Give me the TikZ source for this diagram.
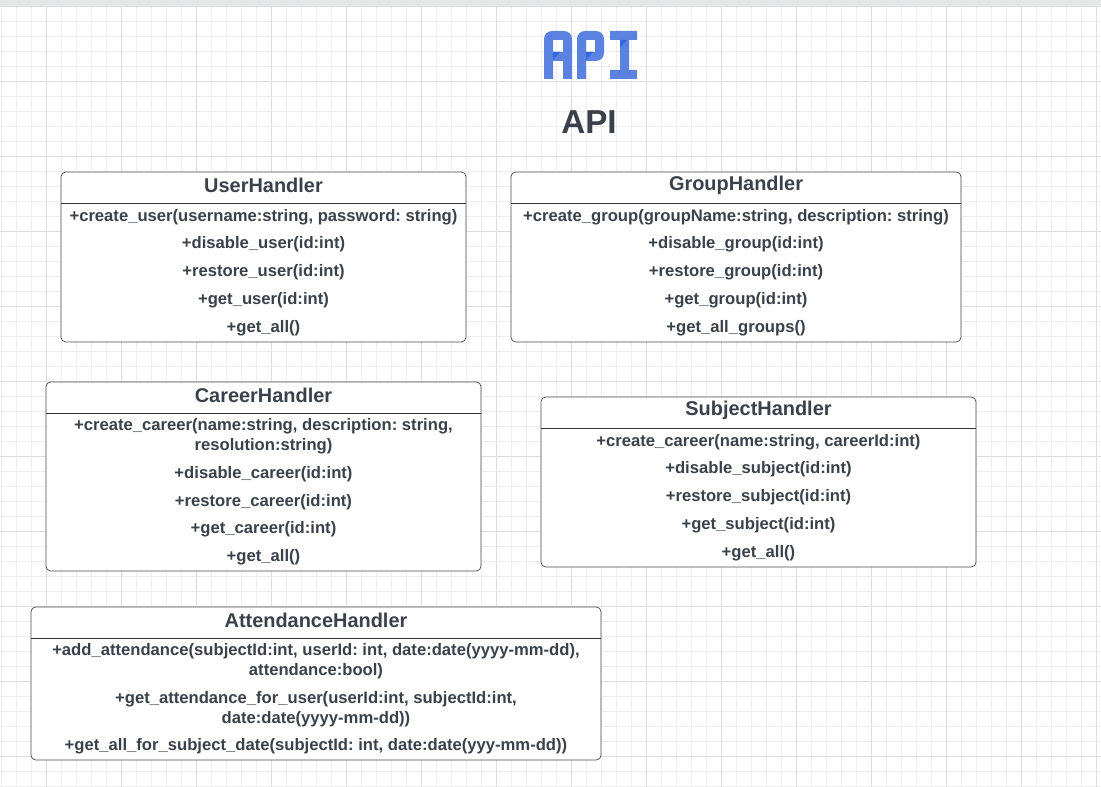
\documentclass[tikz,border=0pt]{standalone}
\usepackage{fontspec}
\setmainfont{Liberation Sans}
\usetikzlibrary{positioning}
\frenchspacing

\definecolor{inkgray}{HTML}{3A414A}
\definecolor{iconblue}{HTML}{5B82E0}
\definecolor{icondark}{HTML}{2F68DC}
\definecolor{minorgrid}{HTML}{EEEEEE}
\definecolor{majorgrid}{HTML}{DDDDDD}
\definecolor{topband}{HTML}{E6E7E9}

\tikzset{
    classbox/.style={draw=black!70, line width=0.55pt, rounded corners=3.5pt, fill=white},
    divider/.style={draw=black!80, line width=0.55pt},
    classname/.style={font=\bfseries\fontsize{14.95}{17}\selectfont, text=inkgray, inner sep=0pt},
    member/.style={font=\bfseries\fontsize{12.48}{15}\selectfont, text=inkgray, inner sep=0pt, align=center},
}

\begin{document}
\begin{tikzpicture}[x=0.75pt, y=-0.75pt, line join=round]
    % --- PAGE ---
    \useasboundingbox (0,0) rectangle (1101,787);
    \fill[white] (0,0) rectangle (1101,787);

    % --- GRID ---
    \begin{scope}
        \clip (0,6) rectangle (1101,787);
        \foreach \gx in {1.5,16.5,...,1101}
            \draw[minorgrid, line width=0.6pt] (\gx,0) -- (\gx,787);
        \foreach \gy in {6,21,...,787}
            \draw[minorgrid, line width=0.6pt] (0,\gy) -- (1101,\gy);
        \foreach \gx in {46.5,121.5,...,1101}
            \draw[majorgrid, line width=0.6pt] (\gx,0) -- (\gx,787);
        \foreach \gy in {6,81,...,787}
            \draw[majorgrid, line width=0.6pt] (0,\gy) -- (1101,\gy);
    \end{scope}
    \fill[topband] (0,0) rectangle (1101,6);

    % --- ICON ---
    % Letter A
    \fill[iconblue, even odd rule] (544,79) [rounded corners=6pt] -- (544,31) -- (572,31) [sharp corners] -- (572,79) -- (563,79) -- (563,61) -- (553,61) -- (553,79) -- cycle
        (553,40) rectangle (563,52);
    \fill[icondark] (553,52) -- (560,52) -- (553,60) -- cycle;
    % Letter P
    \fill[iconblue, even odd rule] (577,79) [rounded corners=6pt] -- (577,31) -- (604,31) -- (604,61) [sharp corners] -- (586,61) -- (586,79) -- cycle
        (586,40) rectangle (595,52);
    \fill[icondark] (586,52) -- (593,52) -- (586,60) -- cycle;
    % Letter I
    \fill[iconblue] (610,31) -- (637,31) -- (637,40) -- (629,40) -- (629,70) -- (637,70) -- (637,79) -- (610,79) -- (610,70) -- (620,70) -- (620,40) -- (610,40) -- cycle;
    \fill[icondark] (620,40) -- (627,40) -- (620,48) -- cycle;

    % --- TITLE ---
    \node[font=\bfseries\fontsize{24.9}{28}\selectfont, text=inkgray, inner sep=0pt] (title) at (589,122) {API};

    % --- USER HANDLER ---
    \draw[classbox] (61,172) rectangle (466,342);
    \draw[divider] (61,203) -- (466,203);
    \node[classname] (userName) at (263.5,185) {UserHandler};
    \node[member] (userCreate) at (263.5,217) {+create\_user(username:string, password: string)};
    \node[member] (userDisable) at (263.5,244) {+disable\_user(id:int)};
    \node[member] (userRestore) at (263.5,272) {+restore\_user(id:int)};
    \node[member] (userGet) at (263.5,300) {+get\_user(id:int)};
    \node[member] (userAll) at (263.5,328) {+get\_all()};

    % --- GROUP HANDLER ---
    \draw[classbox] (511,172) rectangle (961,342);
    \draw[divider] (511,203) -- (961,203);
    \node[classname] (groupName) at (736,185) {GroupHandler};
    \node[member] (groupCreate) at (736,217) {+create\_group(groupName:string, description: string)};
    \node[member] (groupDisable) at (736,244) {+disable\_group(id:int)};
    \node[member] (groupRestore) at (736,272) {+restore\_group(id:int)};
    \node[member] (groupGet) at (736,300) {+get\_group(id:int)};
    \node[member] (groupAll) at (736,328) {+get\_all\_groups()};

    % --- CAREER HANDLER ---
    \draw[classbox] (46,382) rectangle (481,571);
    \draw[divider] (46,413) -- (481,413);
    \node[classname] (careerName) at (263.5,395) {CareerHandler};
    \node[member] (careerCreate) at (263.5,436) {+create\_career(name:string, description: string,\\resolution:string)};
    \node[member] (careerDisable) at (263.5,474) {+disable\_career(id:int)};
    \node[member] (careerRestore) at (263.5,502) {+restore\_career(id:int)};
    \node[member] (careerGet) at (263.5,529) {+get\_career(id:int)};
    \node[member] (careerAll) at (263.5,557) {+get\_all()};

    % --- SUBJECT HANDLER ---
    \draw[classbox] (541,397) rectangle (976,567);
    \draw[divider] (541,428) -- (976,428);
    \node[classname] (subjectName) at (758.5,410) {SubjectHandler};
    \node[member] (subjectCreate) at (758.5,442) {+create\_career(name:string, careerId:int)};
    \node[member] (subjectDisable) at (758.5,469) {+disable\_subject(id:int)};
    \node[member] (subjectRestore) at (758.5,497) {+restore\_subject(id:int)};
    \node[member] (subjectGet) at (758.5,525) {+get\_subject(id:int)};
    \node[member] (subjectAll) at (758.5,553) {+get\_all()};

    % --- ATTENDANCE HANDLER ---
    \draw[classbox] (31,607) rectangle (601,760);
    \draw[divider] (31,638) -- (601,638);
    \node[classname] (attendanceName) at (316,620) {AttendanceHandler};
    \node[member] (attendanceAdd) at (316,661) {+add\_attendance(subjectId:int, userId: int, date:date(yyyy-mm-dd),\\attendance:bool)};
    \node[member] (attendanceUser) at (316,709) {+get\_attendance\_for\_user(userId:int, subjectId:int,\\date:date(yyyy-mm-dd))};
    \node[member] (attendanceAll) at (316,746) {+get\_all\_for\_subject\_date(subjectId: int, date:date(yyy-mm-dd))};
\end{tikzpicture}
\end{document}
